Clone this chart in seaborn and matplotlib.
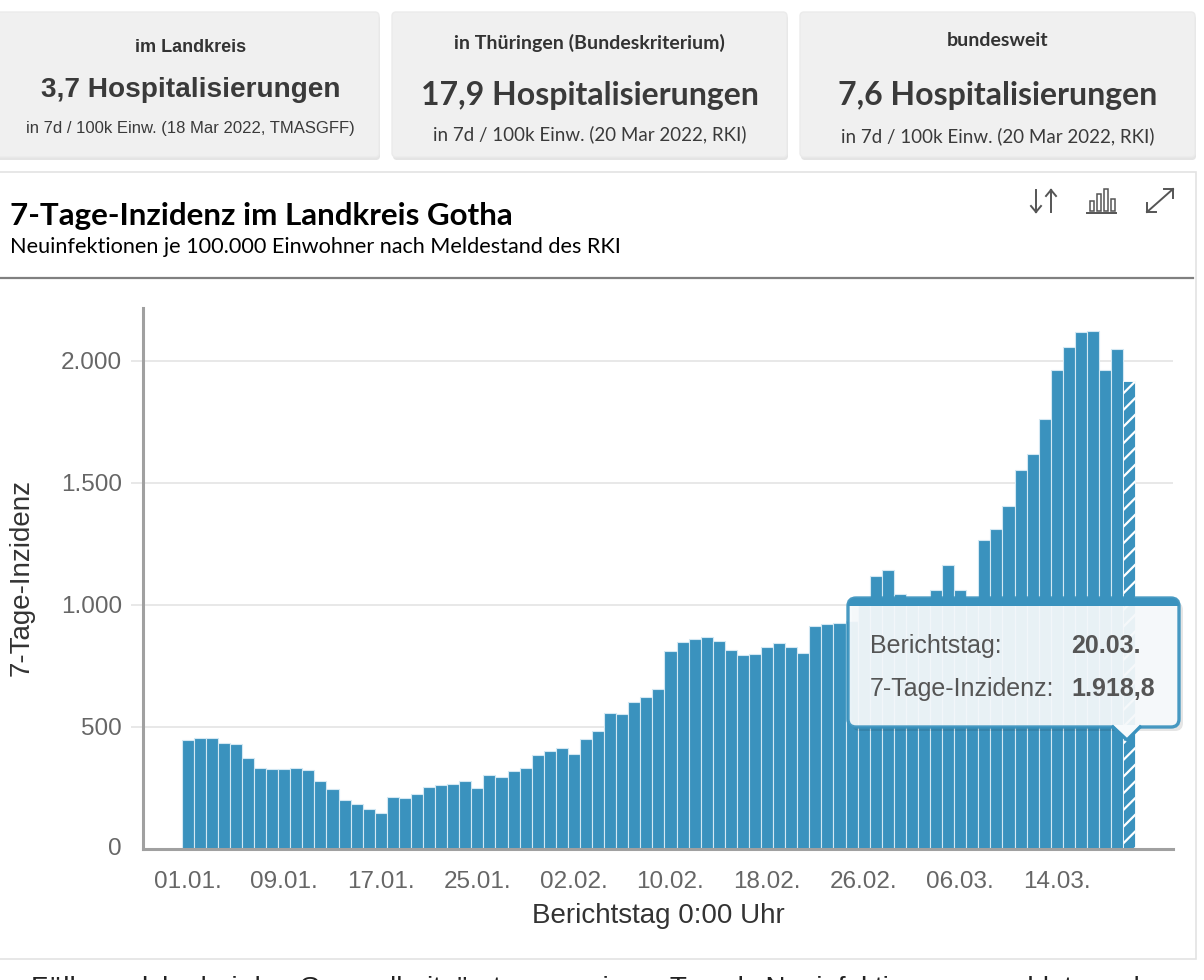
import matplotlib
matplotlib.use("Agg")
import matplotlib.pyplot as plt
import matplotlib.transforms as mtransforms
from matplotlib.patches import FancyBboxPatch, Polygon, Rectangle
from matplotlib.lines import Line2D
import pandas as pd
import seaborn as sns

# data (7-Tage-Inzidenz, Landkreis Gotha)
start_day = "2022-01-01"
end_day = "2022-03-20"
incidence = [
    445, 454, 453, 435, 431, 371, 331, 329, 327, 331, 322, 277, 247, 201, 183, 163,
    148, 212, 209, 224, 254, 261, 266, 279, 250, 303, 296, 321, 333, 384, 403, 413,
    389, 450, 484, 559, 553, 604, 622, 654, 810, 847, 862, 868, 854, 816, 795, 798,
    829, 843, 827, 805, 915, 921, 925, 935, 1000, 1117, 1143, 1045, 1025, 1020, 1060, 1164,
    1060, 1000, 1265, 1310, 1405, 1552, 1618, 1762, 1964, 2056, 2118, 2123, 1964, 2049, 1918.8,
]
tick_days = ["01.01.", "09.01.", "17.01.", "25.01.", "02.02.", "10.02.", "18.02.", "26.02.", "06.03.", "14.03."]
y_ticks = [0, 500, 1000, 1500, 2000]
y_tick_labels = ["0", "500", "1.000", "1.500", "2.000"]

cards = [
    ("im Landkreis", "3,7 Hospitalisierungen", "in 7d / 100k Einw. (18 Mar 2022, TMASGFF)"),
    ("in Thüringen (Bundeskriterium)", "17,9 Hospitalisierungen", "in 7d / 100k Einw. (20 Mar 2022, RKI)"),
    ("bundesweit", "7,6 Hospitalisierungen", "in 7d / 100k Einw. (20 Mar 2022, RKI)"),
]

days = pd.date_range(start_day, end_day, freq="D").strftime("%d.%m.").tolist()

bar_color = "#3a92be"
text_gray = "#666666"
dark = "#333333"
helv = ["Liberation Sans", "DejaVu Sans"]
lato = ["Lato", "DejaVu Sans"]

plt.rcParams["font.family"] = helv
plt.rcParams["hatch.linewidth"] = 1.6

W, H = 1204, 980
fig = plt.figure(figsize=(W / 100, H / 100), dpi=100)
fig.patch.set_facecolor("white")

# pixel transform, origin top-left
px = mtransforms.Affine2D().scale(1 / 100, -1 / 100).translate(0, H / 100) + fig.dpi_scale_trans

# --- top cards
card_boxes = [(-6, 12, 385, 145), (392, 12, 395, 145), (800, 12, 395, 145)]
card_fonts = [helv, lato, lato]
card_y = [(47, 90, 129), (43, 95, 134), (41, 95, 136)]
card_sizes = [(13, 20.2, 12), (14, 23, 13.5), (14, 23, 13.5)]
for (x0, y0, w, h), fam, ys, sz, (t1, t2, t3) in zip(card_boxes, card_fonts, card_y, card_sizes, cards):
    fig.add_artist(FancyBboxPatch((x0 + 1, y0 + 3), w, h, boxstyle="round,pad=0,rounding_size=4",
                                  transform=px, fc="#e4e4e4", ec="none", zorder=-3))
    fig.add_artist(FancyBboxPatch((x0, y0), w, h, boxstyle="round,pad=0,rounding_size=4",
                                  transform=px, fc="#f0f0f0", ec="#ebebeb", lw=1, zorder=-2))
    cx = x0 + w / 2 if x0 >= 0 else (x0 + w) / 2 + 1
    fig.text(cx, ys[0], t1, transform=px, ha="center", va="center", fontsize=sz[0],
             fontweight="bold", color=dark, family=fam)
    fig.text(cx, ys[1], t2, transform=px, ha="center", va="center", fontsize=sz[1],
             fontweight="bold", color="#3a3a3a", family=fam)
    fig.text(cx, ys[2], t3, transform=px, ha="center", va="center", fontsize=sz[2],
             color="#3a3a3a", family=fam)

# --- chart card
fig.add_artist(Rectangle((-4, 172), 1200, 787, transform=px, fc="white", ec="#e3e3e3", lw=1.2, zorder=-2))
fig.add_artist(Line2D([0, 1193], [278, 278], transform=px, color="#808080", lw=1.6))
fig.text(10, 225, "7-Tage-Inzidenz im Landkreis Gotha", transform=px, ha="left", va="baseline",
         fontsize=22.6, fontweight="bold", color="black", family=lato)
fig.text(10, 253, "Neuinfektionen je 100.000 Einwohner nach Meldestand des RKI", transform=px,
         ha="left", va="baseline", fontsize=15.6, color="black", family=lato)

# icons (sort, bar chart, fullscreen)
ic = "#555555"
icon_lines = [
    ([1036, 1036], [190, 212]), ([1031, 1036], [206, 212]), ([1041, 1036], [206, 212]),
    ([1051, 1051], [212, 190]), ([1046, 1051], [196, 190]), ([1056, 1051], [196, 190]),
    ([1087, 1116], [213, 213]),
    ([1147, 1173], [212, 189]), ([1173, 1164], [189, 189]), ([1173, 1173], [189, 198]),
    ([1147, 1156], [212, 212]), ([1147, 1147], [212, 203]),
]
for xs, ys in icon_lines:
    fig.add_artist(Line2D(xs, ys, transform=px, color=ic, lw=1.4))
for bx, top in [(1090, 201), (1097, 194), (1104, 189), (1111, 199)]:
    fig.add_artist(Rectangle((bx, top), 4, 211 - top, transform=px, fc="none", ec=ic, lw=1.1))

# --- main axes
left, right, top, bottom = 143, 1173, 308, 849
ax = fig.add_axes([left / W, 1 - bottom / H, (right - left) / W, (bottom - top) / H])
ax.set_facecolor("none")
ax.set_zorder(2)

sns.barplot(x=days, y=incidence, color=bar_color, saturation=1, width=1.0,
            edgecolor="#d3e8f3", linewidth=0.8, ax=ax, zorder=3)
last = ax.patches[-1]
last.set_hatch("//")
last.set_edgecolor("white")
last.set_linewidth(0.6)

ax.set_xlim(-3.70, 81.63)
ax.set_ylim(0, 2217)
ax.set_yticks(y_ticks[1:])
ax.set_yticklabels(y_tick_labels[1:])
ax.yaxis.grid(True, color="#e6e6e6", lw=1.3, zorder=0)
ax.set_axisbelow(True)
ax.tick_params(axis="y", length=9, width=1.3, color="#e6e6e6", labelsize=17.5,
               labelcolor=text_gray, pad=6)
# zero label sits on the axis line
ax.text(-0.021, 0, y_tick_labels[0], transform=ax.get_yaxis_transform(), ha="right",
        va="center", fontsize=17.5, color=text_gray)
ax.set_xticks([days.index(d) for d in tick_days])
ax.set_xticklabels(tick_days)
ax.tick_params(axis="x", length=0, labelsize=17.5, labelcolor=text_gray, pad=16)
ax.set_xlabel("")
ax.set_ylabel("")
for s in ["top", "right"]:
    ax.spines[s].set_visible(False)
for s in ["left", "bottom"]:
    ax.spines[s].set_color("#a0a0a0")
    ax.spines[s].set_linewidth(2.2)
    ax.spines[s].set_zorder(5)

fig.text(658, 916, "Berichtstag 0:00 Uhr", transform=px, ha="center", va="center",
         fontsize=20, color=dark)
fig.text(22, 577, "7-Tage-Inzidenz", transform=px, ha="center", va="center",
         rotation=90, fontsize=20, color=dark)

# --- tooltip
tx, ty, tw, th = 848, 598, 331, 129
fig.add_artist(FancyBboxPatch((tx + 4, ty + 4), tw, th, boxstyle="round,pad=0,rounding_size=8",
                              transform=px, fc="#000000", alpha=0.1, ec="none", zorder=8))
tip_box = FancyBboxPatch((tx, ty), tw, th, boxstyle="round,pad=0,rounding_size=8",
                         transform=px, fc="#f7fafc", alpha=0.93, ec=bar_color, lw=2.4, zorder=9)
fig.add_artist(tip_box)
band = Rectangle((tx - 2, ty - 2), tw + 4, 10, transform=px, fc=bar_color, ec="none", zorder=9.5)
fig.add_artist(band)
band.set_clip_path(tip_box)
fig.add_artist(Polygon([(1113, th + ty - 2), (1140, th + ty - 2), (1127, 740)], closed=True,
                       transform=px, fc="#f7fafc", ec="none", zorder=10))
fig.add_artist(Line2D([1113, 1127, 1140], [ty + th, 740, ty + th], transform=px, color=bar_color,
                      lw=2.4, zorder=10))
tip = "#555555"
fig.text(870, 646, "Berichtstag:", transform=px, ha="left", va="center", fontsize=18, color=tip, zorder=11)
fig.text(1071, 646, days[-1], transform=px, ha="left", va="center", fontsize=18,
         fontweight="bold", color=tip, zorder=11)
fig.text(870, 689, "7-Tage-Inzidenz:", transform=px, ha="left", va="center", fontsize=18, color=tip, zorder=11)
fig.text(1071, 689, "1.918,8", transform=px, ha="left", va="center", fontsize=18,
         fontweight="bold", color=tip, zorder=11)

# clipped text at the very bottom of the page
fig.text(31, 976, "Fälle, welche bei den Gesundheitsämtern an einem Tag als Neuinfektionen gemeldet wurden, unter dem Aktuali",
         transform=px, ha="left", va="top", fontsize=20, color="#222222")

fig.savefig("out.png", dpi=100)
